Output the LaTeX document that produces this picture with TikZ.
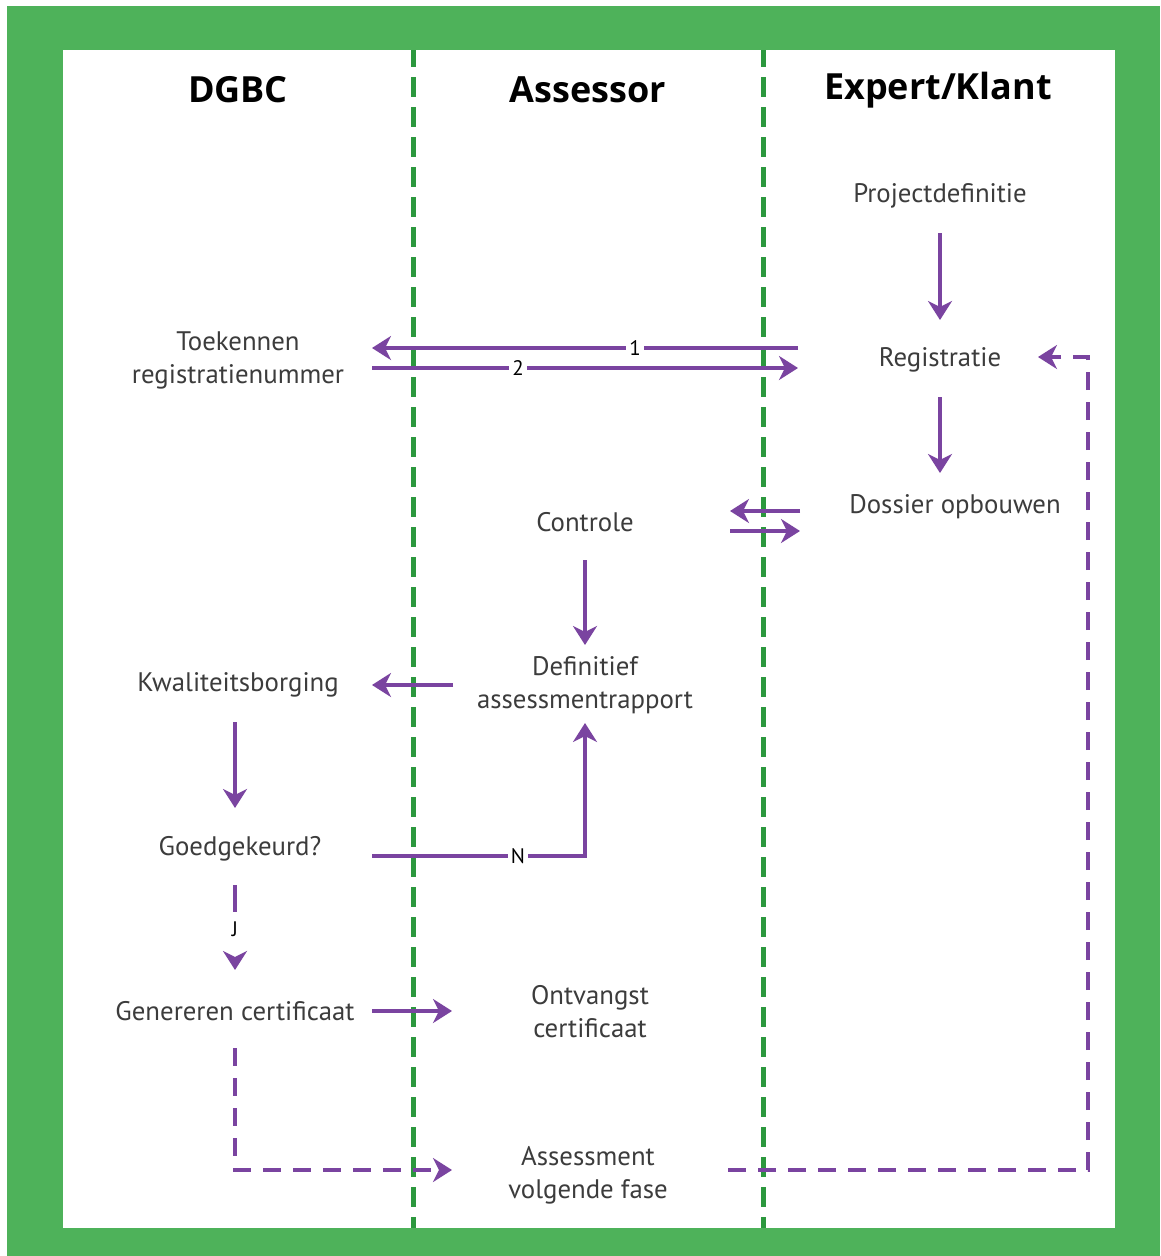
\documentclass[tikz,border=0pt]{standalone}
\usepackage{fontspec}
\setmainfont{PT Sans}
\newfontfamily\hdrfont{Open Sans}
\usetikzlibrary{arrows.meta}
\definecolor{frame}{RGB}{78,178,90}
\definecolor{divider}{RGB}{44,152,62}
\definecolor{purp}{RGB}{122,68,160}
\definecolor{txt}{RGB}{60,60,60}
\tikzset{
  hdr/.style={font=\hdrfont\bfseries\fontsize{36}{40}\selectfont, text=black, inner sep=0pt},
  body/.style={font=\fontsize{26.8}{33}\selectfont, text=txt, align=center, inner sep=0pt},
  lbl/.style={font=\fontsize{21}{22}\selectfont, text=black, fill=white, inner sep=3pt},
  arr/.style={draw=purp, line width=4.8pt, -{Stealth[length=19pt,width=24pt,inset=6pt]}},
  darr/.style={arr, dash pattern=on 18pt off 12pt},
  lane/.style={draw=divider, line width=5pt, dash pattern=on 20pt off 10pt, dash phase=3pt}
}
\begin{document}
\begin{tikzpicture}[x=1pt,y=-1pt]
\useasboundingbox (0,0) rectangle (1160,1256);
\fill[white] (0,0) rectangle (1160,1256);
\fill[frame] (7,6) rectangle (1160,1256);
\fill[white] (63,50) rectangle (1115,1228);
\draw[lane] (413,50) -- (413,1228);
\draw[lane] (763,50) -- (763,1228);

\node[hdr] (hd) at (238,90) {DGBC};
\node[hdr] (ha) at (588,90) {Assessor};
\node[hdr] (he) at (938,90) {Expert/Klant};

\node[body] (proj) at (940,196) {Projectdefinitie};
\node[body] (reg) at (940,360) {Registratie};
\node[body] (dos) at (955,507) {Dossier opbouwen};
\node[body] (toek) at (238,360) {Toekennen\\registratienummer};
\node[body] (ctrl) at (585,522) {Controle};
\node[body] (def) at (585,685) {Definitief\\assessmentrapport};
\node[body] (kwal) at (238,685) {Kwaliteitsborging};
\node[body] (goed) at (240,849) {Goedgekeurd?};
\node[body] (gen) at (235,1011) {Genereren certificaat};
\node[body] (ont) at (590,1012) {Ontvangst\\certificaat};
\node[body] (ass) at (588,1175) {Assessment\\volgende fase};

\draw[arr, shorten <=37pt, shorten >=40pt] (proj.center) -- (reg.center);
\draw[arr, shorten <=37pt, shorten >=37pt] (reg.center) -- ([yshift=-3pt]dos.center -| reg.center);
\draw[arr, shorten <=142pt, shorten >=134pt] ([yshift=12pt]reg.center) -- ([yshift=12pt]toek.center);
\node[lbl] (l1) at (635,348) {1};
\draw[arr, shorten <=134pt, shorten >=142pt] ([yshift=-8pt]toek.center) -- ([yshift=-8pt]reg.center);
\node[lbl] (l2) at (518,368) {2};
\draw[arr, shorten <=155pt, shorten >=145pt] ([yshift=-4pt]dos.center) -- ([yshift=11pt]ctrl.center);
\draw[arr, shorten <=145pt, shorten >=155pt] ([yshift=-9pt]ctrl.center) -- ([yshift=-24pt]dos.center);
\draw[arr, shorten <=38pt, shorten >=40pt] (ctrl.center) -- (def.center);
\draw[arr, shorten <=132pt, shorten >=134pt] (def.center) -- (kwal.center);
\draw[arr, shorten <=37pt, shorten >=41pt] ([xshift=-3pt]kwal.center) -- ([xshift=-5pt]goed.center);
\draw[arr, shorten <=132pt, shorten >=38pt] ([yshift=-7pt]goed.center) -| (def.center);
\node[lbl] (ln) at (518,856) {N};
\draw[arr, dash pattern=on 27pt off 100pt, shorten <=36pt, shorten >=41pt] ([xshift=-5pt]goed.center) -- (gen.center);
\node[lbl, fill=none] (lj) at (235,929) {J};
\draw[arr, shorten <=137pt, shorten >=138pt] (gen.center) -- ([yshift=1pt]ont.center);
\draw[darr, shorten <=37pt, shorten >=136pt] (gen.center) |- ([yshift=5pt]ass.center);
\draw[darr, shorten <=140pt, shorten >=98pt] ([yshift=5pt]ass.center) -| (1088,357) -- ([yshift=3pt]reg.center);
\end{tikzpicture}
\end{document}
